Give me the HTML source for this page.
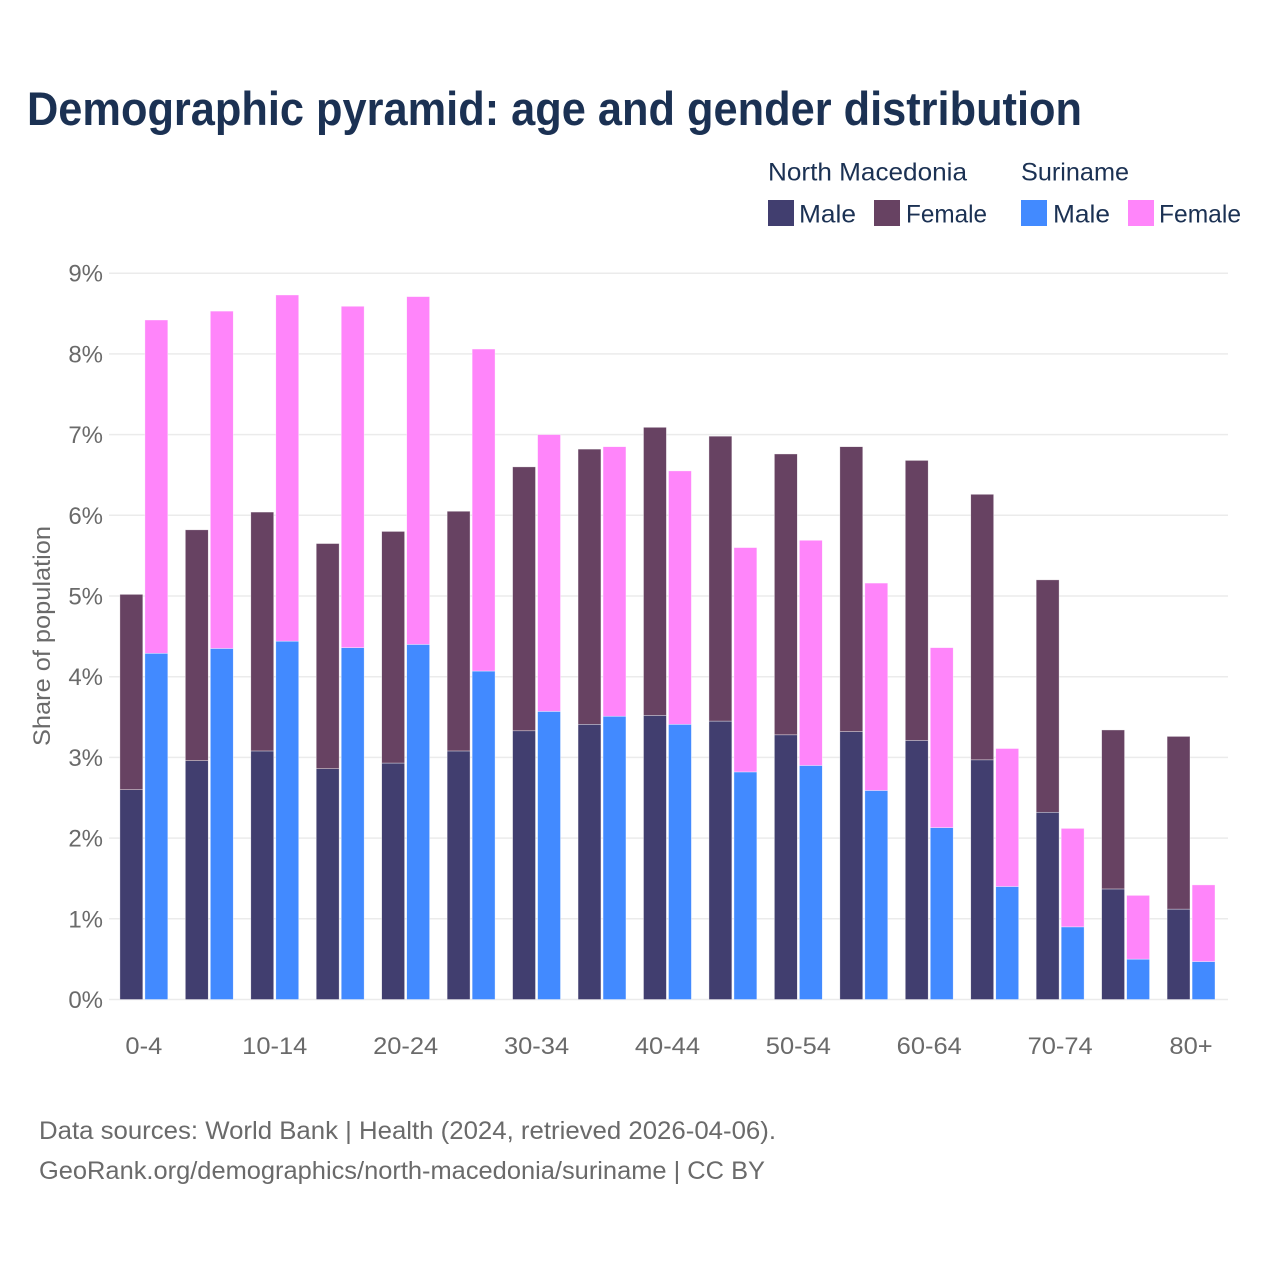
<!DOCTYPE html>
<html lang="en">
<head>
<meta charset="utf-8">
<title>Demographic pyramid: age and gender distribution</title>
<style>
  html, body { margin: 0; padding: 0; background: #fff; }
  svg { display: block; font-family: "Liberation Sans", "DejaVu Sans", sans-serif; }
</style>
</head>
<body>
<svg id="chart" xmlns="http://www.w3.org/2000/svg" width="1280" height="1280" viewBox="0 0 1280 1280">
  <rect x="0" y="0" width="1280" height="1280" fill="#ffffff"/>
  <text x="27" y="125" font-size="47" font-weight="700" fill="#1b3153" textLength="1055" lengthAdjust="spacingAndGlyphs">Demographic pyramid: age and gender distribution</text>

  <g font-size="25" fill="#1b3153">
    <text x="768" y="180.5" textLength="199" lengthAdjust="spacingAndGlyphs">North Macedonia</text>
    <text x="1021" y="180.5" textLength="108" lengthAdjust="spacingAndGlyphs">Suriname</text>
    <rect x="768" y="200" width="26" height="26" fill="#413e6f"/>
    <text x="799" y="222.5" textLength="57" lengthAdjust="spacingAndGlyphs">Male</text>
    <rect x="874" y="200" width="26" height="26" fill="#674262"/>
    <text x="906" y="222.5" textLength="81" lengthAdjust="spacingAndGlyphs">Female</text>
    <rect x="1021" y="200" width="26" height="26" fill="#428aff"/>
    <text x="1053" y="222.5" textLength="57" lengthAdjust="spacingAndGlyphs">Male</text>
    <rect x="1128" y="200" width="26" height="26" fill="#ff85fa"/>
    <text x="1159" y="222.5" textLength="82" lengthAdjust="spacingAndGlyphs">Female</text>
  </g>

  <g id="grid"></g>
  <g id="y-ticks"></g>
  <g id="bars"></g>
  <g id="x-ticks"></g>

  <text transform="translate(50 636) rotate(-90)" text-anchor="middle" font-size="24" fill="#6a6a6a" textLength="220" lengthAdjust="spacingAndGlyphs">Share of population</text>

  <text x="39" y="1139" font-size="25" fill="#6a6a6a" textLength="737" lengthAdjust="spacingAndGlyphs">Data sources: World Bank | Health (2024, retrieved 2026-04-06).</text>
  <text x="39" y="1179" font-size="25" fill="#6a6a6a" textLength="726" lengthAdjust="spacingAndGlyphs">GeoRank.org/demographics/north-macedonia/suriname | CC BY</text>
</svg>

<script>
const categories = ["0-4","5-9","10-14","15-19","20-24","25-29","30-34","35-39","40-44","45-49","50-54","55-59","60-64","65-69","70-74","75-79","80+"];
const northMacedoniaMale = [2.60,2.96,3.08,2.86,2.93,3.08,3.33,3.41,3.52,3.45,3.28,3.32,3.21,2.97,2.32,1.37,1.12];
const northMacedoniaFemale = [2.42,2.86,2.96,2.79,2.87,2.97,3.27,3.41,3.57,3.53,3.48,3.53,3.47,3.29,2.88,1.97,2.14];
const surinameMale = [4.29,4.35,4.44,4.36,4.40,4.07,3.57,3.51,3.41,2.82,2.90,2.59,2.13,1.40,0.90,0.50,0.47];
const surinameFemale = [4.13,4.18,4.29,4.23,4.31,3.99,3.43,3.34,3.14,2.78,2.79,2.57,2.23,1.71,1.22,0.79,0.95];
const yTickValues = [0,1,2,3,4,5,6,7,8,9];
const yTickLabels = ["0%","1%","2%","3%","4%","5%","6%","7%","8%","9%"];

const NS = "http://www.w3.org/2000/svg";
const plotLeft = 109, plotRight = 1228;
const yBase = 999.5, yPerUnit = 80.7;
const groupStart = 119.9, groupStep = 65.45;
const barWidth = 22.9, barGap = 2.1;

function yScale(v) { return yBase - v * yPerUnit; }
function groupX(i) { return groupStart + i * groupStep; }

function make(tag, attrs, parent) {
  const el = document.createElementNS(NS, tag);
  for (const k in attrs) el.setAttribute(k, attrs[k]);
  parent.appendChild(el);
  return el;
}

const gridGroup = document.getElementById("grid");
const yTickGroup = document.getElementById("y-ticks");
yTickValues.forEach(function (v, i) {
  const line = make("line", { x1: plotLeft, x2: plotRight, y1: yScale(v), y2: yScale(v), stroke: "#ebebeb", "stroke-width": 1.5 }, gridGroup);
  
  
  const label = make("text", { x: 103, y: yScale(v) + 8.5, "text-anchor": "end", "font-size": 24, fill: "#6a6a6a" }, yTickGroup);
  
  
  label.textContent = yTickLabels[i];
});

const barsGroup = document.getElementById("bars");
function drawBar(x, lower, value, color, name) {
  const top = yScale(lower + value);
  const rect = make("rect", { x: x, y: top, width: barWidth, height: yScale(lower) - top, fill: color, stroke: "#ffffff", "stroke-opacity": 0.6, "stroke-width": 0.6 }, barsGroup);
  
  
}
categories.forEach(function (c, i) {
  const x1 = groupX(i);
  const x2 = x1 + barWidth + barGap;
  drawBar(x1, 0, northMacedoniaMale[i], "#413e6f", "bar-north-macedonia-male");
  drawBar(x1, northMacedoniaMale[i], northMacedoniaFemale[i], "#674262", "bar-north-macedonia-female");
  drawBar(x2, 0, surinameMale[i], "#428aff", "bar-suriname-male");
  drawBar(x2, surinameMale[i], surinameFemale[i], "#ff85fa", "bar-suriname-female");
});

const xTickGroup = document.getElementById("x-ticks");
categories.forEach(function (c, i) {
  if (i % 2 !== 0) return;
  const label = make("text", { x: groupX(i) + barWidth + barGap / 2, y: 1054, "text-anchor": "middle", "font-size": 24, fill: "#6a6a6a" }, xTickGroup);
  
  
  label.textContent = c;
  label.setAttribute("textLength", (label.getComputedTextLength() * 1.06).toFixed(1));
  label.setAttribute("lengthAdjust", "spacingAndGlyphs");
});
</script>
</body>
</html>
